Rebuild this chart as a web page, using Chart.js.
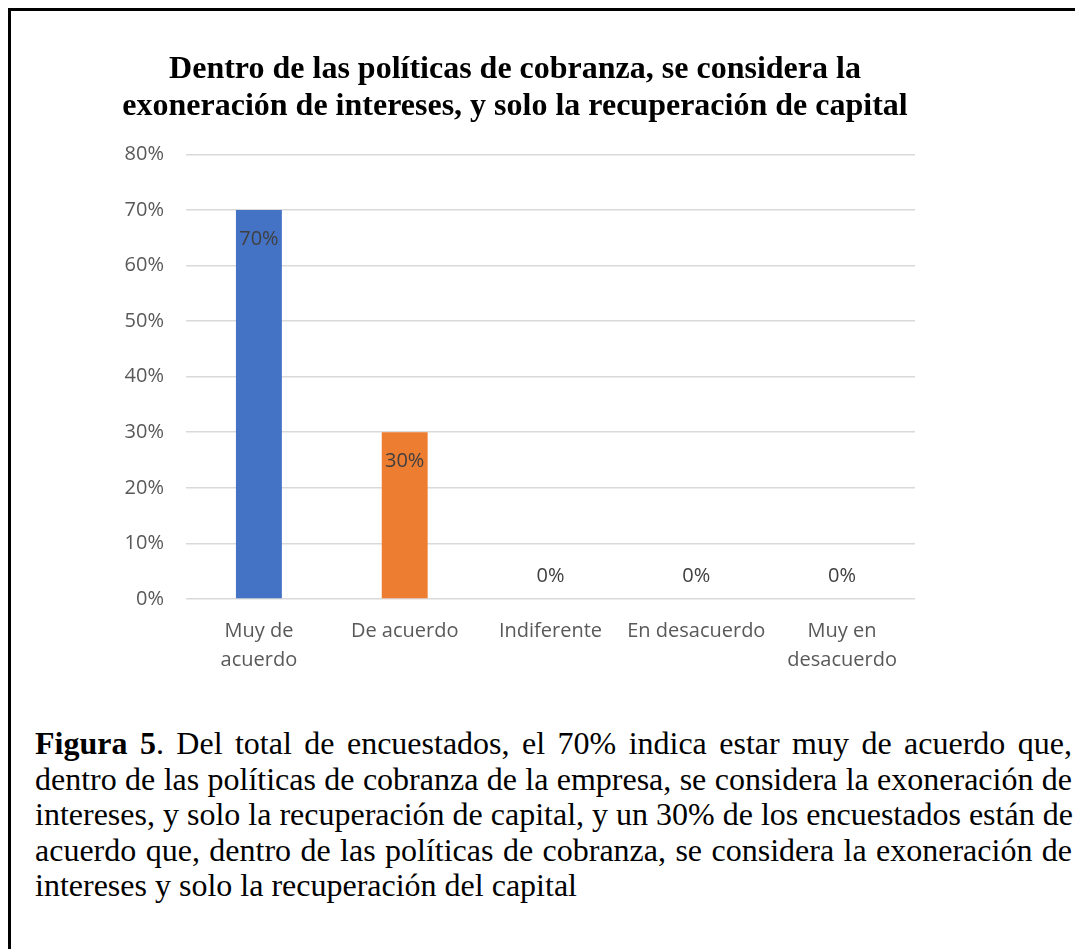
<!DOCTYPE html>
<html lang="es">
<head>
<meta charset="utf-8">
<title>Figura 5</title>
<script src="https://cdn.jsdelivr.net/npm/chart.js@4.4.1/dist/chart.umd.min.js"></script>
<style>
  html, body { margin: 0; padding: 0; background: #fff; overflow: hidden; }
  body { width: 1075px; height: 949px; position: relative; }
  .marco {
    position: absolute; left: 8px; top: 8px;
    width: 1120px; height: 1000px;
    border: 3px solid #000;
  }
  .grafico { position: absolute; left: 21px; top: 30px; width: 1000px; height: 673px; }
  .nota {
    position: absolute; left: 35px; top: 726px; width: 1037px;
    font-family: "Liberation Serif", "Times New Roman", serif;
    font-size: 32px; line-height: 35.5px; color: #000;
  }
  .nota div { text-align: justify; text-align-last: justify; white-space: nowrap; }
  .nota div.ultima { text-align-last: left; }
</style>
</head>
<body>
<div class="marco"></div>
<div class="grafico"><canvas id="grafico"></canvas></div>
<div class="nota">
  <div><b>Figura 5</b>. Del total de encuestados, el 70% indica estar muy de acuerdo que,</div>
  <div>dentro de las políticas de cobranza de la empresa, se considera la exoneración de</div>
  <div>intereses, y solo la recuperación de capital, y un 30% de los encuestados están de</div>
  <div>acuerdo que, dentro de las políticas de cobranza, se considera la exoneración de</div>
  <div class="ultima">intereses y solo la recuperación del capital</div>
</div>
<script>
const categorias = [["Muy de", "acuerdo"], "De acuerdo", "Indiferente", "En desacuerdo", ["Muy en", "desacuerdo"]];
const porcentajes = [70, 30, 0, 0, 0];
const coloresBarras = ["#4472C4", "#ED7D31", "#A5A5A5", "#FFC000", "#5B9BD5"];
const ejeMax = 80;
const ejePaso = 10;

// etiquetas de valor: dentro del extremo de la barra, o encima si vale 0
const etiquetasValor = {
  id: "etiquetasValor",
  afterDatasetsDraw(chart) {
    const ctx = chart.ctx;
    const meta = chart.getDatasetMeta(0);
    ctx.save();
    ctx.font = '20px "Open Sans"';
    ctx.fillStyle = "#404040";
    ctx.textAlign = "center";
    ctx.textBaseline = "middle";
    meta.data.forEach((barra, i) => {
      const v = porcentajes[i];
      const y = v > 0 ? barra.y + 29 : barra.y - 23;
      ctx.fillText(v + "%", barra.x, y);
    });
    ctx.restore();
  }
};

const ctx = document.getElementById("grafico");
const grafico = new Chart(ctx, {
  type: "bar",
  data: {
    labels: categorias,
    datasets: [{
      data: porcentajes,
      backgroundColor: coloresBarras,
      borderWidth: 0,
      categoryPercentage: 1,
      barPercentage: 0.315
    }]
  },
  options: {
    responsive: true,
    maintainAspectRatio: false,
    animation: false,
    layout: { padding: { left: 94, right: 106, top: 0, bottom: 10 } },
    plugins: {
      legend: { display: false },
      tooltip: { enabled: false },
      title: {
        display: true,
        text: ["Dentro de las políticas de cobranza, se considera la",
               "exoneración de intereses, y solo la recuperación de capital"],
        color: "#000",
        font: { family: '"Liberation Serif", "Times New Roman", serif', size: 32, weight: "bold", lineHeight: 1.13 },
        padding: { top: 22, bottom: 30 }
      }
    },
    scales: {
      x: {
        grid: { display: false, drawTicks: false },
        border: { display: false },
        ticks: {
          color: "#595959",
          font: { family: '"Open Sans"', size: 20, lineHeight: 1.45 },
          padding: 18,
          maxRotation: 0,
          autoSkip: false
        }
      },
      y: {
        min: 0,
        max: ejeMax,
        afterFit: function (escala) { escala.width = 71; },
        grid: { color: "#D9D9D9", lineWidth: 1.5, drawTicks: false },
        border: { display: false },
        ticks: {
          stepSize: ejePaso,
          color: "#595959",
          font: { family: '"Open Sans"', size: 20 },
          padding: 22,
          callback: function (value) { return value + "%"; }
        }
      }
    }
  },
  plugins: [etiquetasValor]
});
</script>
</body>
</html>
